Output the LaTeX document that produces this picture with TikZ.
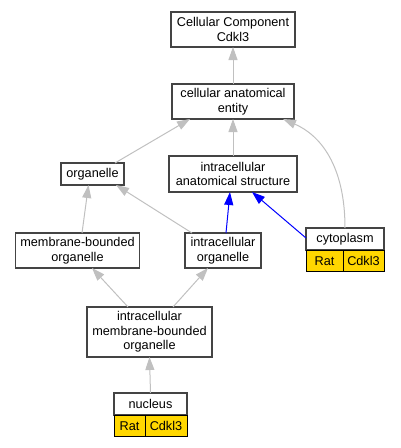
\documentclass[tikz,border=0pt]{standalone}
\usepackage{fontspec}
\setmainfont{Liberation Sans}
\usetikzlibrary{arrows.meta}
\definecolor{edgeGrey}{HTML}{C0C0C0}
\definecolor{boxBorder}{HTML}{444444}
\definecolor{cellYellow}{HTML}{FFD700}

\begin{document}
\begin{tikzpicture}[x=1pt, y=-1pt,
    term/.style={draw=boxBorder, line width=1.5pt, fill=white, align=center,
      font=\fontsize{12.7}{14.5}\selectfont, inner xsep=5pt, inner ysep=0pt, outer sep=0pt},
    cell/.style={draw=black, line width=0.8pt, fill=cellYellow, inner sep=0pt, outer sep=0pt,
      font=\fontsize{12.7}{14.5}\selectfont, minimum height=21.5pt},
    isa/.style={draw=edgeGrey, line width=1pt, -{Triangle[length=13pt, width=9pt]}},
    partof/.style={draw=blue, line width=1pt, -{Triangle[length=13pt, width=9pt]}}]
  \useasboundingbox (0,0) rectangle (400,448);
  % terms
  \node[term, minimum width=124pt, minimum height=35pt] (cc) at (233,29.5) {Cellular Component\\Cdkl3};
  \node[term, minimum width=122pt, minimum height=35pt] (cae) at (233,101.5) {cellular anatomical\\entity};
  \node[term, minimum width=63pt, minimum height=22pt] (org) at (92.5,174) {organelle};
  \node[term, minimum width=128pt, minimum height=36pt] (ias) at (233,174) {intracellular\\anatomical structure};
  \node[term, minimum width=123pt, minimum height=35pt] (mbo) at (77.5,250.5) {membrane-bounded\\organelle};
  \node[term, minimum width=76pt, minimum height=35pt] (io) at (223,250.5) {intracellular\\organelle};
  \node[term, minimum width=125pt, minimum height=50pt] (imbo) at (149.5,332) {intracellular\\membrane-bounded\\organelle};
  % annotated terms
  \node[term, minimum width=78pt, minimum height=22pt] (cyto) at (345,239) {cytoplasm};
  \node[cell, minimum width=37pt, anchor=north west] (cytoRat) at (cyto.south west) {Rat};
  \node[cell, minimum width=41pt, anchor=west] (cytoGene) at (cytoRat.east) {Cdkl3};
  \node[term, minimum width=73pt, minimum height=22pt] (nuc) at (150.5,404) {nucleus};
  \node[cell, minimum width=31pt, anchor=north west] (nucRat) at (nuc.south west) {Rat};
  \node[cell, minimum width=42pt, anchor=west] (nucGene) at (nucRat.east) {Cdkl3};
  % edges
  \draw[isa] (cae.north) -- (cc.south);
  \draw[isa] ([xshift=-9pt]org.north east) -- ([xshift=18pt]cae.south west);
  \draw[isa] (ias.north) -- (cae.south);
  \draw[isa] (cyto.north) .. controls (345,165) and (320,135) .. ([xshift=-11pt]cae.south east);
  \draw[isa] ([xshift=4.5pt]mbo.north) -- ([xshift=-4pt]org.south);
  \draw[isa] ([xshift=7pt]io.north west) -- ([xshift=-8pt]org.south east);
  \draw[partof] ([xshift=3pt]io.north) -- ([xshift=-3pt]ias.south);
  \draw[partof] ([yshift=-10pt]cyto.north west) -- ([xshift=-45pt]ias.south east);
  \draw[isa] ([xshift=-21.5pt]imbo.north) -- ([xshift=14.5pt]mbo.south);
  \draw[isa] ([xshift=23.5pt]imbo.north) -- ([xshift=-15pt]io.south);
  \draw[isa] (nuc.north) -- (imbo.south);
\end{tikzpicture}
\end{document}
